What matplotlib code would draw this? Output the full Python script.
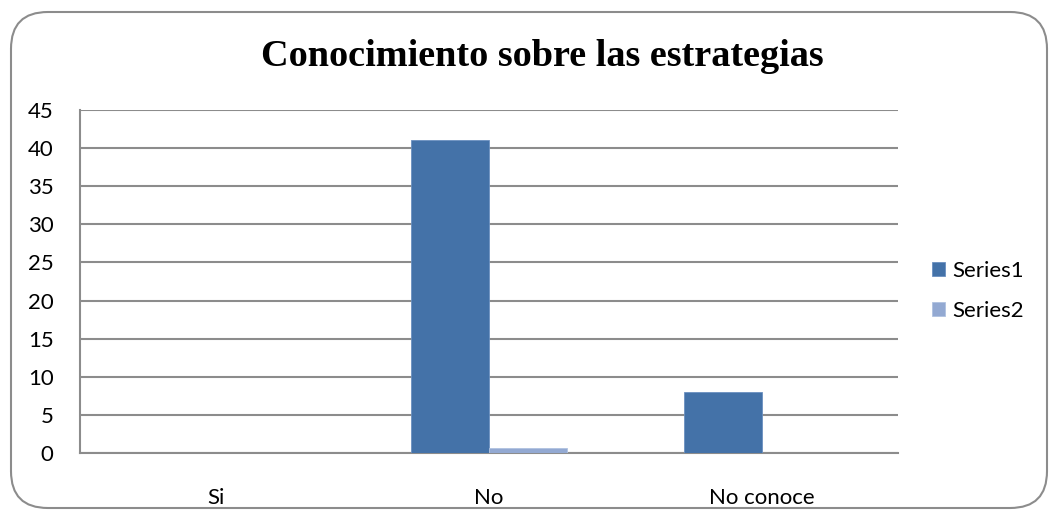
import matplotlib.pyplot as plt
from matplotlib.patches import FancyBboxPatch
import numpy as np

categories = ["Si", "No", "No conoce"]
series1 = [0, 41, 8]
series2 = [0, 0.7, 0]
yticks = [0, 5, 10, 15, 20, 25, 30, 35, 40, 45]

plt.rcParams['font.family'] = ['Lato', 'DejaVu Sans']

fig = plt.figure(figsize=(10.54, 5.11), dpi=100)
ax = fig.add_axes([80 / 1054, 1 - 453 / 511, 818 / 1054, 343 / 511])

# rounded frame around the whole chart
frame = FancyBboxPatch((11 / 1054, 3 / 511), 1036 / 1054, 496 / 511,
                       boxstyle="round,pad=0,rounding_size=0.035",
                       transform=fig.transFigure, facecolor='none',
                       edgecolor='#8c8c8c', linewidth=1.5, mutation_aspect=2.06)
fig.patches.append(frame)

x = np.arange(len(categories))
w = 0.286
ax.bar(x - w / 2, series1, w, color='#4472a8', edgecolor='#6b90c0', linewidth=0.6, label='Series1', zorder=3)
ax.bar(x + w / 2, series2, w, color='#93a9d2', edgecolor='#b0c2e0', linewidth=0.6, label='Series2', zorder=3)

ax.set_xlim(-0.5, 2.5)
ax.set_ylim(0, 45)
ax.set_yticks(yticks)
ax.set_xticks(x)
ax.set_xticklabels(categories)
ax.tick_params(axis='both', length=0, labelsize=16, colors='black')
ax.tick_params(axis='y', pad=19)
ax.tick_params(axis='x', pad=25)
ax.grid(axis='y', color='#8c8c8c', linewidth=1.5, zorder=0)
for s in ['top', 'right']:
    ax.spines[s].set_visible(False)
for s in ['left', 'bottom']:
    ax.spines[s].set_color('#8c8c8c')
    ax.spines[s].set_linewidth(1.5)

fig.text(542 / 1054, 1 - 57 / 511, "Conocimiento sobre las estrategias",
         ha='center', va='center', fontsize=27.5, fontweight='bold',
         family=['Liberation Serif', 'DejaVu Serif'])

fig.legend(loc='center left', bbox_to_anchor=(932 / 1054, 1 - 291 / 511),
           frameon=False, fontsize=16, handlelength=0.6, handleheight=0.6,
           handletextpad=0.3, labelspacing=0.9, borderpad=0, borderaxespad=0)

fig.savefig("out.png", dpi=100)
